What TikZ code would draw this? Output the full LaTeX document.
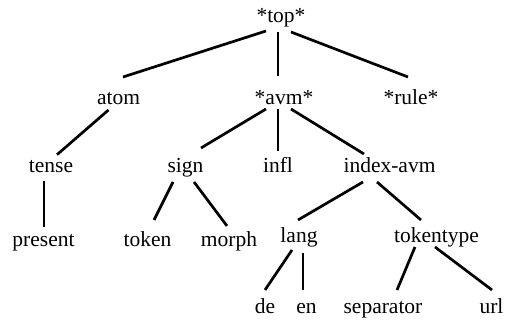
\documentclass[tikz,border=0pt]{standalone}
\usepackage{fontspec}
\setmainfont{Liberation Serif}
\usetikzlibrary{calc}
\tikzset{
  lbl/.style={inner sep=0pt, anchor=base, font=\fontsize{21.5pt}{24pt}\selectfont},
  edge/.style={line width=2.7pt, black}
}
\begin{document}
\begin{tikzpicture}[x=1pt,y=1pt]
\useasboundingbox[fill=white] (0,0) rectangle (506,320);
% nodes (x = centre, y = baseline)
\node[lbl] (top) at (281,297) {*top*};
\node[lbl] (atom) at (118.5,215) {atom};
\node[lbl] (avm) at (284,215) {*avm*};
\node[lbl] (rule) at (411,215) {*rule*};
\node[lbl] (tense) at (51,147.3) {tense};
\node[lbl] (sign) at (185.5,147.3) {sign};
\node[lbl] (infl) at (278,147.3) {infl};
\node[lbl] (index) at (389.5,147.3) {index-avm};
\node[lbl] (present) at (43.5,73) {present};
\node[lbl] (token) at (147.5,73) {token};
\node[lbl] (morph) at (229,73) {morph};
\node[lbl] (lang) at (299,77.5) {lang};
\node[lbl] (tokentype) at (436.5,77.5) {tokentype};
\node[lbl] (de) at (265,6) {de};
\node[lbl] (en) at (306.5,6) {en};
\node[lbl] (separator) at (383,6) {separator};
\node[lbl] (url) at (491.5,6) {url};
% edges
\draw[edge] ($(top.base)+(-15,-8)$) -- ($(atom.base)+(4.5,28)$);
\draw[edge] ($(top.base)+(-3,-9)$) -- ($(avm.base)+(-6,29)$);
\draw[edge] ($(top.base)+(10,-9)$) -- ($(rule.base)+(-3,28)$);
\draw[edge] ($(atom.base)+(-10,-5)$) -- ($(tense.base)+(6,18)$);
\draw[edge] ($(avm.base)+(-18,-4)$) -- ($(sign.base)+(15.5,24.7)$);
\draw[edge] ($(avm.base)+(-6,-4)$) -- ($(infl.base)+(0,21.7)$);
\draw[edge] ($(avm.base)+(7,-4)$) -- ($(index.base)+(-25.5,18.7)$);
\draw[edge] ($(tense.base)+(-7,-8.3)$) -- ($(present.base)+(0.5,20)$);
\draw[edge] ($(sign.base)+(-12.5,-9.3)$) -- ($(token.base)+(6.5,27)$);
\draw[edge] ($(sign.base)+(8.5,-9.3)$) -- ($(morph.base)+(-2,21)$);
\draw[edge] ($(index.base)+(-26.5,-9.3)$) -- ($(lang.base)+(-1,22.5)$);
\draw[edge] ($(index.base)+(-12.5,-9.3)$) -- ($(tokentype.base)+(-15.5,22.5)$);
\draw[edge] ($(lang.base)+(-7,-7.5)$) -- ($(de.base)+(0,24)$);
\draw[edge] ($(lang.base)+(4,-10.5)$) -- ($(en.base)+(-3.5,24)$);
\draw[edge] ($(tokentype.base)+(-21.5,-4.5)$) -- ($(separator.base)+(14,24)$);
\draw[edge] ($(tokentype.base)+(-1.5,-4.5)$) -- ($(url.base)+(0.5,24)$);
\end{tikzpicture}
\end{document}
